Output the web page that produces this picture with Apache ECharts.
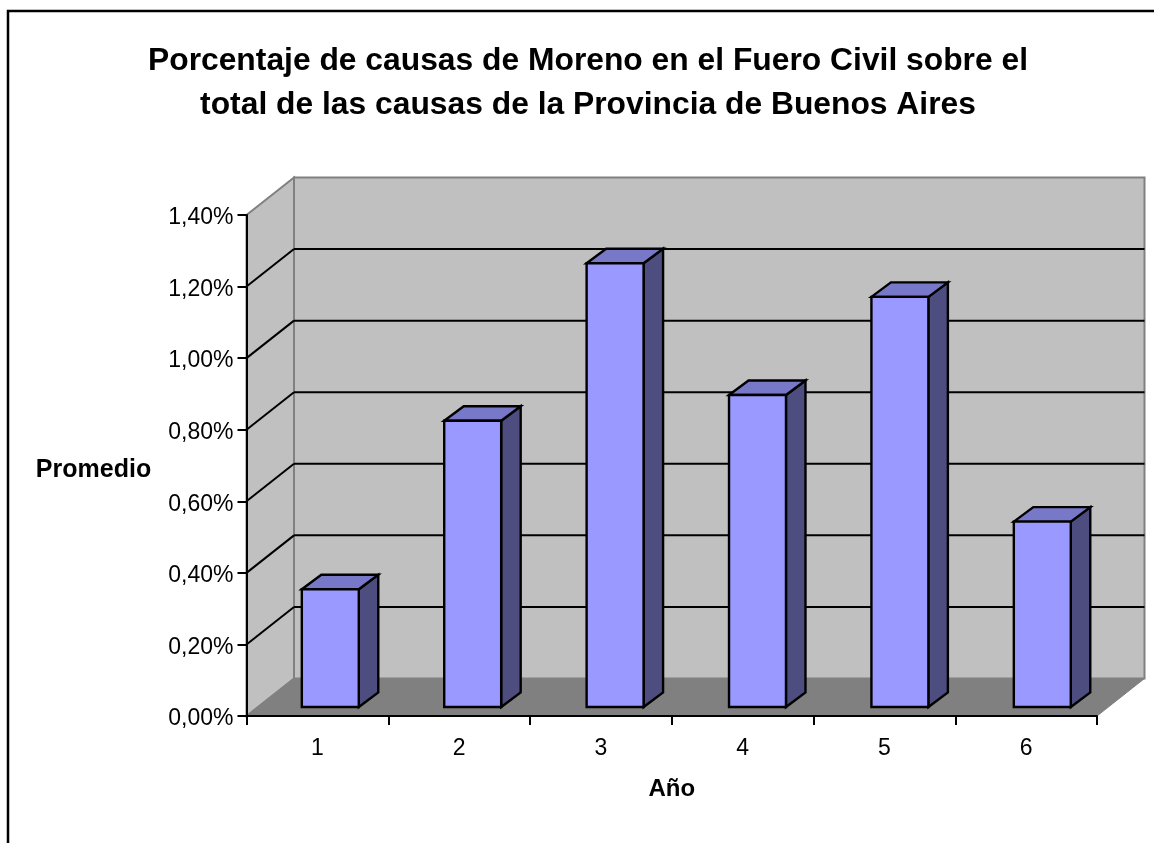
<!DOCTYPE html>
<html><head><meta charset="utf-8">
<style>html,body{margin:0;padding:0;background:#fff}#c{width:1154px;height:843px}</style>
<script src="https://cdn.jsdelivr.net/npm/echarts@6/dist/echarts.min.js"></script>
</head><body><div id="c"></div>
<script>
const titleText = 'Porcentaje de causas de Moreno en el Fuero Civil sobre el\ntotal de las causas de la Provincia de Buenos Aires';
const categories = ['1','2','3','4','5','6'];
const values = [0.329, 0.80, 1.24, 0.872, 1.146, 0.518];
const gridTicks = [0.2, 0.4, 0.6, 0.8, 1.0, 1.2];
const yName = 'Promedio';
const xName = 'Año';

const WALL_DX = 47.5, WALL_DY = 37.5;
const BAR_DX = 19.5, BAR_DY = 14.5;
const FONT = '"Liberation Sans", Arial, sans-serif';
const GREY = '#808080';

function poly(pts, fill, stroke, lw) {
  return { type: 'polygon', shape: { points: pts },
    style: { fill: fill, stroke: stroke || null, lineWidth: lw || 0, lineJoin: 'miter' } };
}
function seg(a, b, color, lw) {
  return { type: 'line', shape: { x1: a[0], y1: a[1], x2: b[0], y2: b[1] },
    style: { stroke: color, lineWidth: lw } };
}

const chart = echarts.init(document.getElementById('c'), null, { renderer: 'canvas' });
chart.setOption({
  animation: false,
  backgroundColor: '#fff',
  graphic: [{ type: 'rect', z: 0, silent: true,
    shape: { x: 8, y: 11, width: 1300, height: 1000 },
    style: { fill: 'none', stroke: '#000', lineWidth: 2.5 } }],
  title: { text: titleText, left: 583, top: 34, textAlign: 'center',
    textStyle: { fontFamily: FONT, fontWeight: 'bold', fontSize: 31.8, lineHeight: 44, color: '#000' } },
  grid: [
    { left: 246.5, top: 215, width: 850.5, height: 501 },
    { left: 259.1, top: 206, width: 854.4, height: 501 }
  ],
  xAxis: [
    { gridIndex: 0, type: 'category', data: categories, z: 3,
      name: xName, nameLocation: 'middle', nameGap: 61,
      nameTextStyle: { fontFamily: FONT, fontWeight: 'bold', fontSize: 24, color: '#000' },
      axisLine: { lineStyle: { color: '#000', width: 2 } },
      axisTick: { show: true, length: 9, alignWithLabel: false, lineStyle: { color: '#000', width: 2 } },
      axisLabel: { fontFamily: FONT, fontSize: 23, color: '#000', margin: 21 } },
    { gridIndex: 1, type: 'category', data: categories, show: false }
  ],
  yAxis: [
    { gridIndex: 0, type: 'value', min: 0, max: 1.4, interval: 0.2, z: 3,
      name: yName, nameLocation: 'middle', nameRotate: 0, nameGap: 153,
      nameTextStyle: { fontFamily: FONT, fontWeight: 'bold', fontSize: 25, color: '#000', align: 'center', verticalAlign: 'top', lineHeight: 10 },
      axisLine: { show: true, lineStyle: { color: '#000', width: 2 } },
      axisTick: { show: true, length: 9, lineStyle: { color: '#000', width: 2 } },
      axisLabel: { fontFamily: FONT, fontSize: 23, color: '#000', margin: 13, verticalAlign: 'top', lineHeight: 6,
        formatter: v => v.toFixed(2).replace('.', ',') + '%' },
      splitLine: { show: false } },
    { gridIndex: 1, type: 'value', min: 0, max: 1.4, interval: 0.2, show: false, splitLine: { show: false } }
  ],
  series: [
    { // walls and floor
      type: 'custom', xAxisIndex: 0, yAxisIndex: 0, z: 1, silent: true,
      data: [[0, 0]],
      renderItem: (params, api) => {
        const s = params.coordSys;
        const L = s.x, R = s.x + s.width, T = s.y, B = s.y + s.height;
        const bL = L + WALL_DX, bR = R + WALL_DX, bT = T - WALL_DY, bB = B - WALL_DY;
        return { type: 'group', children: [
          poly([[bL, bT], [bR, bT], [bR, bB], [bL, bB]], '#C0C0C0', GREY, 2),
          poly([[L, T], [bL, bT], [bL, bB], [L, B]], '#C0C0C0', GREY, 2),
          poly([[L, B], [bL, bB], [bR, bB], [R, B]], GREY, GREY, 1)
        ] };
      }
    },
    { // grid lines on the walls
      type: 'custom', xAxisIndex: 0, yAxisIndex: 0, z: 2, silent: true,
      data: gridTicks.map(v => [0, v]),
      renderItem: (params, api) => {
        const s = params.coordSys;
        const y = api.coord([0, api.value(1)])[1];
        const L = s.x, R = s.x + s.width;
        return { type: 'group', children: [
          seg([L, y], [L + WALL_DX, y - WALL_DY], '#000', 2),
          seg([L + WALL_DX, y - WALL_DY], [R + WALL_DX, y - WALL_DY], '#000', 2)
        ] };
      }
    },
    { // 3D bars
      type: 'custom', name: yName, xAxisIndex: 1, yAxisIndex: 1, z: 4, silent: true,
      encode: { x: 0, y: 1 },
      data: values.map((v, i) => [i, v]),
      renderItem: (params, api) => {
        const top = api.coord([api.value(0), api.value(1)]);
        const base = api.coord([api.value(0), 0]);
        const w = api.size([1, 0])[0] * 0.4;
        const l = top[0] - w / 2, r = top[0] + w / 2, t = top[1], b = base[1];
        const dx = BAR_DX, dy = BAR_DY;
        return { type: 'group', children: [
          poly([[r, t], [r + dx, t - dy], [r + dx, b - dy], [r, b]], '#4D4D80', '#000', 2.4),
          poly([[l, t], [l + dx, t - dy], [r + dx, t - dy], [r, t]], '#7878C8', '#000', 2.4),
          poly([[l, t], [r, t], [r, b], [l, b]], '#9999FF', '#000', 2.4)
        ] };
      }
    }
  ]
});
</script></body></html>
